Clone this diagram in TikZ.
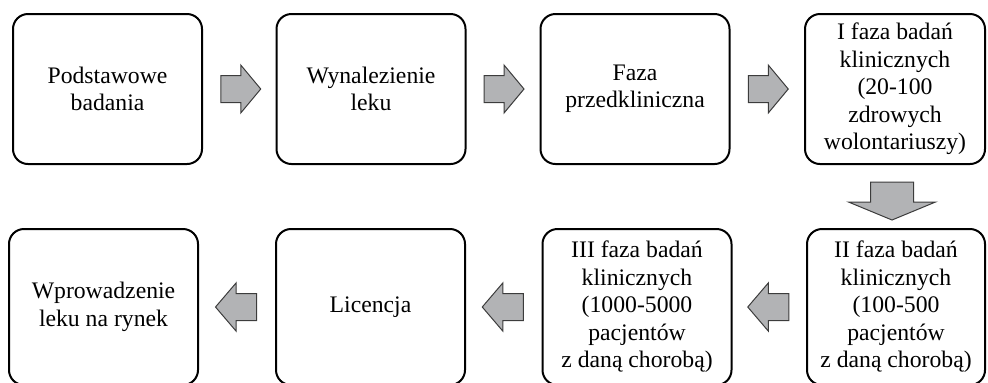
\documentclass[tikz,border=0pt]{standalone}
\usepackage{fontspec}
\setmainfont{Liberation Serif}
\usetikzlibrary{calc}
\definecolor{arrowgray}{RGB}{178,179,181}
\definecolor{arrowline}{RGB}{60,60,60}

\begin{document}
\begin{tikzpicture}[line cap=round,line join=round,x=0.5pt,y=-0.5pt,
	stage/.style={draw,line width=1pt,rounded corners=7.5pt,minimum width=94.5pt,inner sep=0pt,align=center,font=\fontsize{11.85pt}{13.75pt}\selectfont},
	blockarrow/.style={draw=arrowline,fill=arrowgray,line width=0.5pt,line cap=butt,line join=miter}]
	\useasboundingbox (0,0) rectangle (988,382);
	%% gorny rzad
	\node[stage,minimum height=75pt] (podst) at (107.5,89) {Podstawowe\\badania};
	\node[stage,minimum height=75pt] (wynal) at (371,89) {Wynalezienie\\leku};
	\node[stage,minimum height=75pt] (przedkl) at (635,89) {Faza\\przedkliniczna};
	\node[stage,minimum height=75pt,minimum width=90pt] (faza1) at (895,89) {I faza badań\\klinicznych\\(20-100\\zdrowych\\wolontariuszy)};
	%% dolny rzad
	\node[stage,minimum height=78pt] (rynek) at (103.5,307) {Wprowadzenie\\leku na rynek};
	\node[stage,minimum height=78pt] (licencja) at (370.5,307) {Licencja};
	\node[stage,minimum height=78pt] (faza3) at (637,307) {III faza badań\\klinicznych\\(1000-5000\\pacjentów\\z daną chorobą)};
	\node[stage,minimum height=78pt,minimum width=89pt] (faza2) at (896,307) {II faza badań\\klinicznych\\(100-500\\pacjentów\\z daną chorobą)};
	%% strzalki
	\coordinate (s1) at ($(podst.east)!0.5!(wynal.west)+(1.5,0)$);
	\coordinate (s2) at ($(wynal.east)!0.5!(przedkl.west)+(1,0)$);
	\coordinate (s3) at ($(przedkl.east)!0.5!(faza1.west)+(1,0)$);
	\coordinate (s4) at ($(faza1.south)!0.5!(faza2.north)+(-3.5,0)$);
	\coordinate (s5) at ($(faza3.east)!0.5!(faza2.west)+(-1,0)$);
	\coordinate (s6) at ($(licencja.east)!0.5!(faza3.west)+(-1,0)$);
	\coordinate (s7) at ($(rynek.east)!0.5!(licencja.west)+(-1,0)$);
	\draw[blockarrow,shift={(s1)}] (-20,-13.5) -- (0,-13.5) -- (0,-24) -- (20,0) -- (0,24) -- (0,13.5) -- (-20,13.5) -- cycle;
	\draw[blockarrow,shift={(s2)}] (-20,-13.5) -- (0,-13.5) -- (0,-24) -- (20,0) -- (0,24) -- (0,13.5) -- (-20,13.5) -- cycle;
	\draw[blockarrow,shift={(s3)}] (-20,-13.5) -- (0,-13.5) -- (0,-24) -- (20,0) -- (0,24) -- (0,13.5) -- (-20,13.5) -- cycle;
	\draw[blockarrow,shift={(s4)}] (-21.5,-14.5) -- (21.5,-14.5) -- (21.5,5.5) -- (43.5,5.5) -- (0,23.5) -- (-43.5,5.5) -- (-21.5,5.5) -- cycle;
	\draw[blockarrow,shift={(s5)},xscale=-1] (-20.5,-13.5) -- (0,-13.5) -- (0,-24) -- (20.5,0) -- (0,24) -- (0,13.5) -- (-20.5,13.5) -- cycle;
	\draw[blockarrow,shift={(s6)},xscale=-1] (-20.5,-13.5) -- (0,-13.5) -- (0,-24) -- (20.5,0) -- (0,24) -- (0,13.5) -- (-20.5,13.5) -- cycle;
	\draw[blockarrow,shift={(s7)},xscale=-1] (-20.5,-13.5) -- (0,-13.5) -- (0,-24) -- (20.5,0) -- (0,24) -- (0,13.5) -- (-20.5,13.5) -- cycle;
\end{tikzpicture}
\end{document}
